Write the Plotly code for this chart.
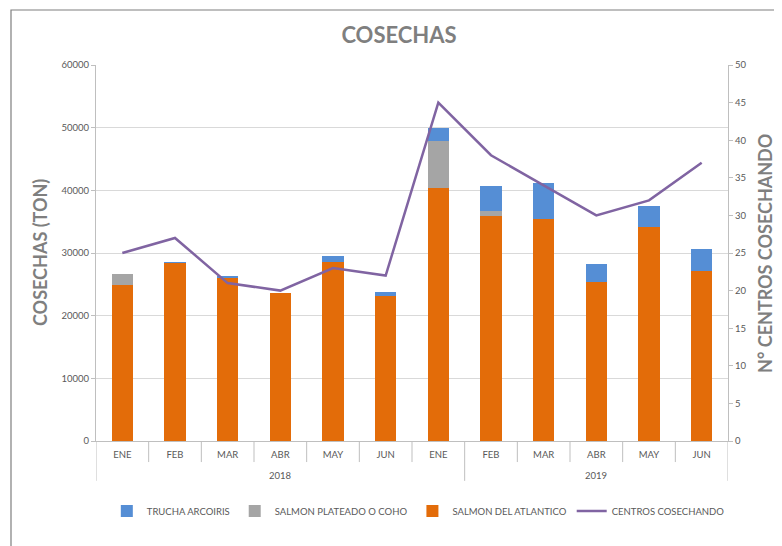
import plotly.graph_objects as go

months = ["ENE", "FEB", "MAR", "ABR", "MAY", "JUN", "ENE", "FEB", "MAR", "ABR", "MAY", "JUN"]
years = ["2018", "2019"]
year_spans = [(0, 6), (7, 11)]  # category index ranges per year label

salmon_atlantico = [24900, 28450, 26150, 23600, 28600, 23100, 40450, 35950, 35400, 25300, 34200, 27100]
salmon_coho = [1750, 0, 0, 0, 0, 0, 7450, 800, 0, 0, 0, 0]
trucha = [0, 100, 50, 0, 950, 700, 2050, 4000, 5850, 2900, 3350, 3500]
centros = [25, 27, 21, 20, 23, 22, 45, 38, 34, 30, 32, 37]

x_idx = list(range(len(months)))

FONT = "Lato, sans-serif"
C_ORANGE = "#E36C09"
C_GRAY = "#A5A5A5"
C_BLUE = "#558ED5"
C_PURPLE = "#8064A2"
AX = "#BFBFBF"
TXT = "#595959"
TTL = "#7F7F7F"

W, H = 774, 538

fig = go.Figure()
fig.add_trace(go.Bar(x=x_idx, y=salmon_atlantico, name="SALMON DEL ATLANTICO",
                     marker=dict(color=C_ORANGE, line=dict(width=0)), width=0.4, legendrank=3))
fig.add_trace(go.Bar(x=x_idx, y=salmon_coho, name="SALMON PLATEADO O COHO",
                     marker=dict(color=C_GRAY, line=dict(width=0)), width=0.4, legendrank=2))
fig.add_trace(go.Bar(x=x_idx, y=trucha, name="TRUCHA ARCOIRIS",
                     marker=dict(color=C_BLUE, line=dict(width=0)), width=0.4, legendrank=1))
fig.add_trace(go.Scatter(x=x_idx, y=centros, name="CENTROS COSECHANDO", yaxis="y2",
                         mode="lines", line=dict(color=C_PURPLE, width=2.5), legendrank=4))

shapes = []
# category dividers below the axis
for i in range(len(months) + 1):
    b = i - 0.5
    long = b in (-0.5, 6.5, 11.5)
    shapes.append(dict(type="line", xref="x", yref="paper", x0=b, x1=b, y0=0,
                       y1=-0.106 if long else -0.056, line=dict(color=AX, width=1)))
# outer chart border
shapes.append(dict(type="rect", xref="paper", yref="paper", x0=-0.1345, x1=1.3, y0=-0.6,
                   y1=1.1463, line=dict(color="#7F7F7F", width=1.2), fillcolor="rgba(0,0,0,0)"))

annotations = []
for yr, (a, b) in zip(years, year_spans):
    annotations.append(dict(text=yr, x=(a + b) / 2, xref="x", y=-0.092, yref="paper",
                            showarrow=False, yanchor="middle", font=dict(family=FONT, size=9.5, color=TXT)))
annotations.append(dict(text="COSECHAS (TON)", x=-0.0886, xref="paper", y=0.5, yref="paper",
                        textangle=-90, showarrow=False, xanchor="center", yanchor="middle",
                        font=dict(family=FONT, size=18, color=TTL, weight="bold")))
annotations.append(dict(text="N° CENTROS COSECHANDO", x=1.0585, xref="paper", y=0.5, yref="paper",
                        textangle=-90, showarrow=False, xanchor="center", yanchor="middle",
                        font=dict(family=FONT, size=18, color=TTL, weight="bold")))

tickfont = dict(family=FONT, size=9.5, color=TXT)

fig.update_layout(
    width=W, height=H,
    margin=dict(l=88, r=54, t=57, b=105),
    paper_bgcolor="white", plot_bgcolor="white",
    barmode="stack",
    font=dict(family=FONT, color=TXT, size=10),
    title=dict(text="<b>COSECHAS</b>", x=391 / W, xref="container", y=1 - 27 / H, yref="container",
               xanchor="center", yanchor="middle", font=dict(family=FONT, size=22, color=TTL)),
    xaxis=dict(range=[-0.5, 11.5], tickmode="array", tickvals=x_idx, ticktext=months,
               showgrid=False, zeroline=False, showline=True, linecolor=AX,
               ticks="outside", ticklen=5, tickcolor="rgba(0,0,0,0)", tickfont=tickfont),
    yaxis=dict(range=[0, 60000], dtick=10000, showgrid=True, gridcolor="#D9D9D9",
               zeroline=False, showline=True, linecolor=AX, ticks="outside", ticklen=4,
               tickcolor=AX, tickformat="d", tickfont=tickfont),
    yaxis2=dict(range=[0, 50], dtick=5, overlaying="y", side="right", showgrid=False,
                zeroline=False, showline=True, linecolor=AX, ticks="outside", ticklen=4,
                tickcolor=AX, tickfont=tickfont),
    legend=dict(orientation="h", x=0.51, xanchor="center", y=-0.186, yanchor="middle",
                font=dict(family=FONT, size=9.5, color=TXT), traceorder="normal"),
    shapes=shapes,
    annotations=annotations,
)

fig.write_html("out.html")
